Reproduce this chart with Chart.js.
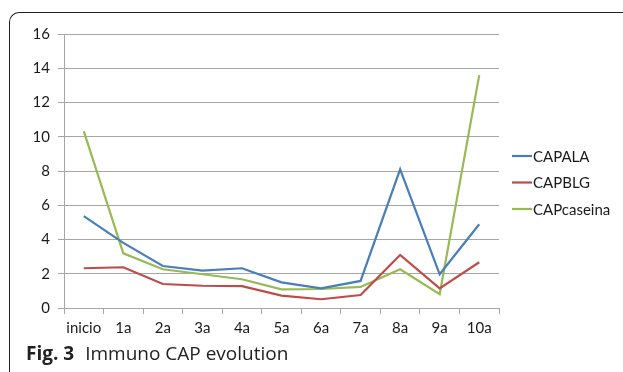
<!DOCTYPE html>
<html>
<head>
<meta charset="utf-8">
<script src="https://cdn.jsdelivr.net/npm/chart.js@4"></script>
<style>
  html, body { margin: 0; padding: 0; background: #fff; }
  body { width: 623px; height: 372px; position: relative; overflow: hidden; }
  #frame {
    position: absolute; left: 9px; top: 12px; width: 640px; height: 370px;
    border-left: 1.5px solid #222; border-top: 1.5px solid #222;
    border-top-left-radius: 10px; box-sizing: border-box;
  }
  #wrap { position: absolute; left: 0; top: 0; width: 623px; height: 372px; }
  #caption {
    position: absolute; left: 26px; top: 342px; font-family: "Open Sans", sans-serif;
    font-size: 19px; color: #222; white-space: nowrap; line-height: 22px;
  }
  #caption b { font-weight: 700; margin-right: 11px; }
</style>
</head>
<body>
<div id="frame"></div>
<div id="wrap"><canvas id="c" width="623" height="372"></canvas></div>
<div id="caption"><b>Fig. 3</b>Immuno CAP evolution</div>
<script>
const categories = ["inicio", "1a", "2a", "3a", "4a", "5a", "6a", "7a", "8a", "9a", "10a"];
const capALA     = [5.37, 3.8, 2.45, 2.18, 2.32, 1.5, 1.15, 1.58, 8.1, 1.97, 4.89];
const capBLG     = [2.32, 2.38, 1.4, 1.3, 1.28, 0.72, 0.51, 0.76, 3.1, 1.15, 2.67];
const capCaseina = [10.33, 3.19, 2.26, 1.97, 1.68, 1.09, 1.11, 1.23, 2.26, 0.8, 13.6];
const yTicks     = [0, 2, 4, 6, 8, 10, 12, 14, 16];

const FONT = "Lato, 'Open Sans', sans-serif";
const GRID = "#a6a6a6";

// Legend drawn to the right of the plot, one short line per series
const sideLegend = {
  id: "sideLegend",
  afterDraw(chart) {
    const ctx = chart.ctx;
    const x0 = 512, y0 = 156, step = 26.5;
    ctx.save();
    ctx.font = "15px " + FONT;
    ctx.textBaseline = "middle";
    ctx.fillStyle = "#1a1a1a";
    chart.data.datasets.forEach((ds, i) => {
      const y = y0 + i * step;
      ctx.strokeStyle = ds.borderColor;
      ctx.lineWidth = 2.2;
      ctx.beginPath();
      ctx.moveTo(x0, y);
      ctx.lineTo(x0 + 20, y);
      ctx.stroke();
      ctx.fillText(ds.label, x0 + 21, y + 1);
    });
    ctx.restore();
  }
};

new Chart(document.getElementById("c"), {
  type: "line",
  data: {
    labels: categories,
    datasets: [
      { label: "CAPALA", data: capALA, borderColor: "#4a7ebb" },
      { label: "CAPBLG", data: capBLG, borderColor: "#be4b48" },
      { label: "CAPcaseina", data: capCaseina, borderColor: "#98b954" }
    ].map(d => Object.assign(d, {
      borderWidth: 2.2, pointRadius: 0, tension: 0, fill: false
    }))
  },
  options: {
    responsive: false,
    animation: false,
    layout: { padding: { left: 20, right: 124, top: 34, bottom: 22 } },
    plugins: { legend: { display: false }, tooltip: { enabled: false } },
    scales: {
      x: {
        offset: true,
        grid: { offset: true, drawOnChartArea: false, drawTicks: true, tickLength: 6, color: GRID, lineWidth: 1 },
        border: { color: GRID, width: 1 },
        ticks: { font: { family: FONT, size: 15 }, color: "#1a1a1a", padding: 5, maxRotation: 0 },
        afterFit(s) { s.height = 42; }
      },
      y: {
        min: 0, max: 16,
        afterBuildTicks(s) { s.ticks = yTicks.map(v => ({ value: v })); },
        grid: { color: GRID, lineWidth: 1, drawTicks: true, tickLength: 6 },
        border: { color: GRID, width: 1 },
        ticks: { font: { family: FONT, size: 15 }, color: "#1a1a1a", padding: 8 },
        afterFit(s) { s.width = 44; }
      }
    }
  },
  plugins: [sideLegend]
});
</script>
</body>
</html>
